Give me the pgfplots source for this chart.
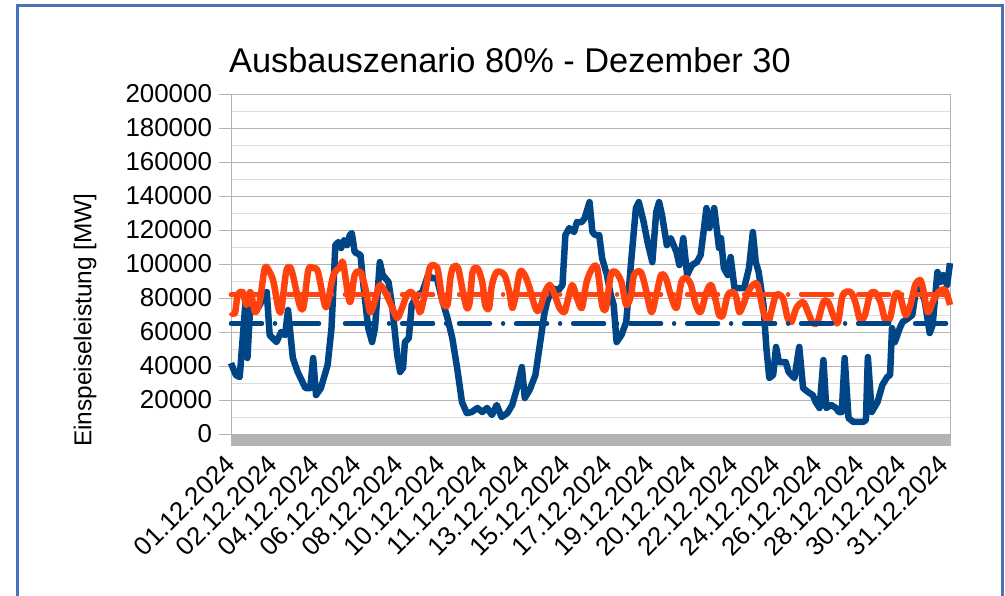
\documentclass[border=0pt]{standalone}
\usepackage{fontspec}
\setmainfont{Liberation Sans}
\usepackage{pgfplots}
\usepackage{pgfplotstable}
\pgfplotsset{compat=1.18}
\definecolor{SerBlue}{HTML}{004586}
\definecolor{SerOrange}{HTML}{FF420E}
\definecolor{GridGray}{HTML}{B3B3B3}
\definecolor{MinorGray}{HTML}{DDDDDD}
\definecolor{FrameBlue}{HTML}{4A72B8}

% hour of December, feed-in in MW
\pgfplotstableread{
h v
0 41700
5 34700
9 33500
15 77600
17 44700
20 75900
28 74100
35 81700
37 83500
40 58200
47 54100
52 60000
56 58200
59 72900
64 44700
69 36500
77 27000
82 27000
85 44700
88 22900
93 27000
100 40600
104 62300
108 111100
111 112900
114 109400
117 114100
120 111100
123 117000
125 118200
128 107000
134 105300
137 87600
142 62300
146 54100
149 62300
154 101100
157 93500
163 89400
167 74100
172 46500
175 36500
178 38800
180 54100
184 56400
187 75900
193 81700
198 83500
204 93500
208 91700
213 91700
218 80000
224 68200
229 56400
234 38800
239 18800
244 12300
249 12900
255 15300
260 12900
265 15300
270 11200
275 17100
280 10000
286 12300
291 17100
296 27000
301 39400
304 21200
309 25900
315 34700
320 54100
324 70000
327 77600
332 85800
339 84700
343 87600
346 117000
350 121100
355 118800
358 124700
363 124700
366 127000
371 136400
374 118800
377 117000
381 117000
384 103500
389 93500
393 81700
396 75900
399 54100
404 58200
409 65900
414 101100
419 132900
422 136400
427 124700
431 112900
436 101100
440 130500
443 136400
446 128800
451 111100
455 115200
461 107000
464 99400
468 115200
472 93500
477 99400
482 101100
486 105300
492 132900
495 121100
500 132900
505 109400
507 115200
510 97600
514 93500
517 104100
521 85800
526 85800
531 85800
536 97600
540 118800
543 101100
546 95300
551 75900
554 50600
557 32900
561 34700
564 51200
567 42300
574 42300
577 36500
583 32900
588 51200
592 27000
597 24700
602 22900
605 18800
609 15300
613 43500
616 15300
621 17100
626 15300
629 12900
632 12900
635 44700
639 9400
644 7100
654 7100
657 8200
659 45300
663 12900
669 18800
674 28800
679 33500
682 34700
684 62300
687 54100
692 62300
695 65900
701 68200
705 70000
708 81700
713 87600
718 77600
723 59400
726 64100
731 95300
734 89400
737 93500
741 87600
744 100500
}\feedin

% hour of December, load in MW
\pgfplotstableread{
h v
0 71700
4 71100
7 81700
12 83500
16 75900
20 83500
25 71700
30 78800
35 97600
40 95300
44 89400
49 74100
52 72900
57 95300
61 98200
64 93500
71 75900
75 74700
80 96400
85 97600
90 95300
97 75900
100 77000
106 93500
113 98200
116 100500
123 77600
128 93500
134 95300
139 85800
144 71700
149 78800
154 87600
161 81700
167 74100
172 68200
177 74100
182 81700
187 83500
193 75900
196 71700
201 83500
206 98200
213 98200
216 89400
219 77600
224 75900
227 91700
230 98200
235 97600
240 83500
244 74100
247 77600
250 95300
255 97600
260 89400
263 75900
267 74100
270 87600
275 95300
283 93500
288 83500
291 74100
294 80000
299 95300
304 93500
309 85800
315 74100
319 72900
325 83500
330 87600
335 81700
340 74100
345 71700
348 77600
353 87600
358 80000
363 74100
368 89400
374 97600
379 97600
384 75900
388 74100
393 93500
398 95300
404 89400
409 75900
414 81700
417 93500
424 95300
429 85800
435 71700
440 81700
445 93500
450 91700
455 81700
461 74100
466 89400
471 91700
476 87600
481 75900
486 71700
492 83500
497 87600
502 77600
505 70000
509 70000
514 81700
520 83500
523 80000
526 71700
530 75900
535 83500
540 87600
545 87600
551 71700
556 65900
559 71700
564 81700
571 80000
576 68200
580 65900
585 74100
592 77600
597 71700
602 65300
607 65900
613 77600
618 77600
623 70000
628 65300
633 81700
641 83500
646 77600
651 67000
656 70000
661 81700
666 83500
672 77600
677 67000
682 68200
687 81700
692 81700
698 70000
703 75900
708 87600
713 90600
716 85800
721 71700
726 77600
732 83500
739 84700
744 75900
}\load

\begin{document}
\begin{tikzpicture}
\begin{axis}[
  scale only axis, width=719bp, height=340bp,
  xmin=0, xmax=744, ymin=0, ymax=200000,
  scaled ticks=false,
  tick pos=left,
  ytick={0,20000,...,200000},
  yticklabels={0,20000,40000,60000,80000,100000,120000,140000,160000,180000,200000},
  minor ytick={10000,30000,...,190000},
  ymajorgrids, yminorgrids,
  major grid style={GridGray, line width=0.8bp},
  minor grid style={MinorGray, line width=0.8bp},
  axis line style={GridGray, line width=0.8bp},
  tick align=outside,
  major tick length=11.5bp,
  minor tick length=12bp,
  tick style={GridGray, line width=0.45bp},
  every minor y tick/.append style={draw=none},
  xtick={6,49.4,92.8,136.2,179.6,223,266.4,309.8,353.2,396.6,440,483.4,526.8,570.2,613.6,657,700.4,743.8},
  xticklabels={01.12.2024,02.12.2024,04.12.2024,06.12.2024,08.12.2024,10.12.2024,11.12.2024,13.12.2024,15.12.2024,17.12.2024,19.12.2024,20.12.2024,22.12.2024,24.12.2024,26.12.2024,28.12.2024,30.12.2024,31.12.2024},
  minor xtick={0,1,...,744},
  xticklabel style={xshift=-4bp, yshift=-12bp, rotate=45, anchor=east},
  yticklabel style={xshift=-4bp},
  tick label style={font=\fontsize{26}{30}\selectfont},
  ylabel={Einspeiseleistung [MW]},
  every axis y label/.style={at={(rel axis cs:-0.203,0.335)}, rotate=90, anchor=center, font=\fontsize{24.5}{28}\selectfont},
  title={Ausbauszenario 80\% - Dezember 30},
  every axis title/.style={at={(rel axis cs:0.388,1.062)}, anchor=base, font=\fontsize{34.5}{40}\selectfont},
  clip=false,
]
\addplot[SerBlue, line width=6.5bp, line join=round] table[x=h, y=v] {\feedin};
\addplot[SerOrange, line width=6.5bp, line join=round, smooth, tension=0.5] table[x=h, y=v] {\load};
\addplot[SerBlue, line width=4.5bp, line cap=round, dash pattern=on 31bp off 13bp on 0.01bp off 13bp] coordinates {(0,65000) (744,65000)};
\addplot[SerOrange, line width=4.5bp, line cap=round, dash pattern=on 31bp off 13bp on 0.01bp off 13bp] coordinates {(0,82000) (744,82000)};
\end{axis}
\pgfresetboundingbox
\useasboundingbox (-231bp,-162bp) rectangle (774bp,434bp);
\draw[FrameBlue, line width=3bp] (-213.5bp,-200bp) -- (-213.5bp,428.2bp) -- (771bp,428.2bp) -- (771bp,-200bp);
\end{tikzpicture}
\end{document}
